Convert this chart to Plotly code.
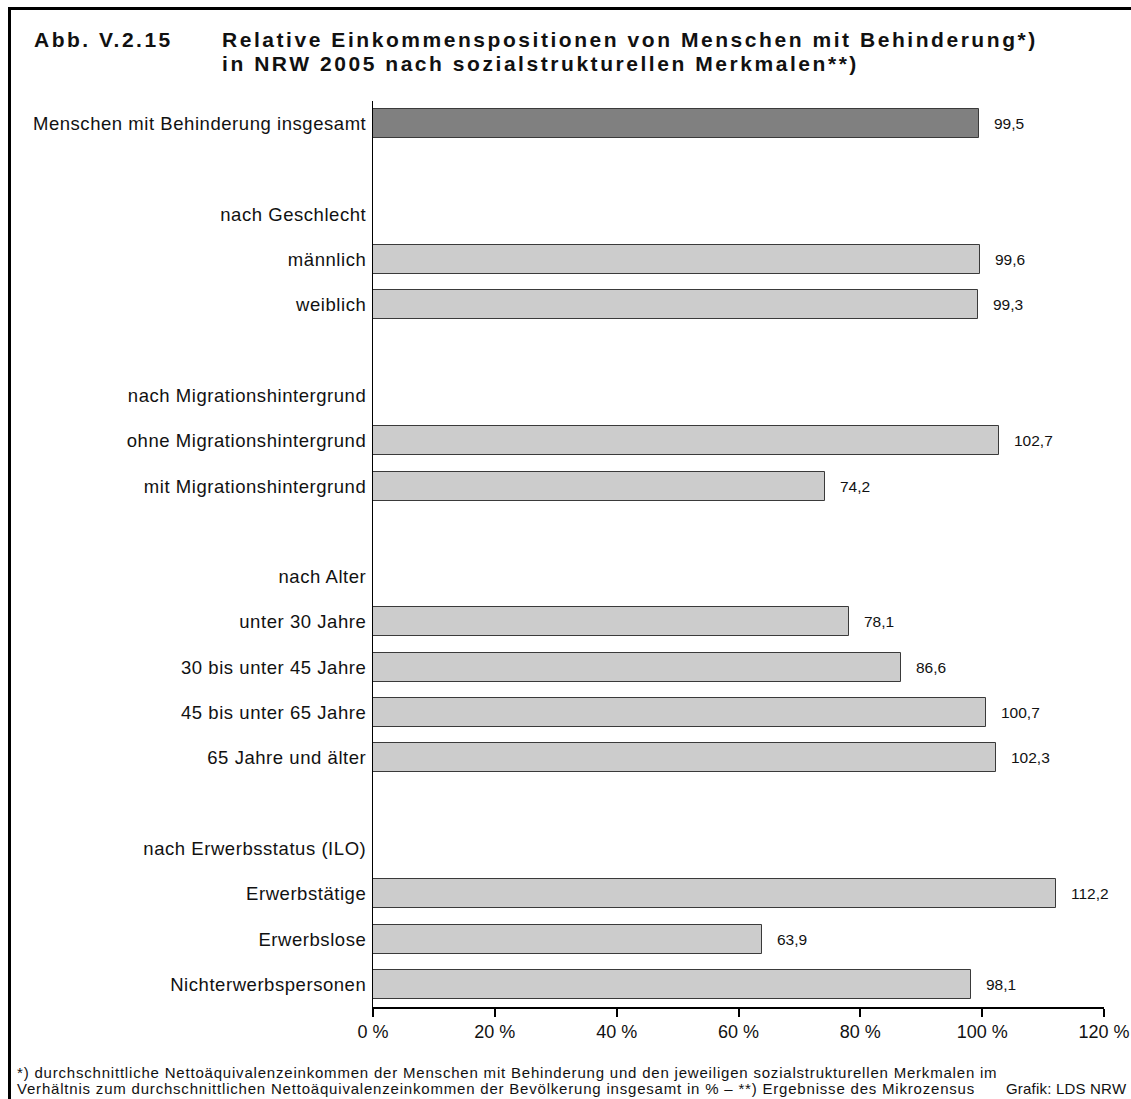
import plotly.graph_objects as go

# ---- data -------------------------------------------------------------
total_label = "Menschen mit Behinderung insgesamt"
total_value = 99.5

group_headers = [
    "nach Geschlecht",
    "nach Migrationshintergrund",
    "nach Alter",
    "nach Erwerbsstatus (ILO)",
]
group_categories = [
    ["männlich", "weiblich"],
    ["ohne Migrationshintergrund", "mit Migrationshintergrund"],
    ["unter 30 Jahre", "30 bis unter 45 Jahre", "45 bis unter 65 Jahre", "65 Jahre und älter"],
    ["Erwerbstätige", "Erwerbslose", "Nichterwerbspersonen"],
]
group_values = [
    [99.6, 99.3],
    [102.7, 74.2],
    [78.1, 86.6, 100.7, 102.3],
    [112.2, 63.9, 98.1],
]
x_tickvals = [0, 20, 40, 60, 80, 100, 120]
x_ticktext = ["0 %", "20 %", "40 %", "60 %", "80 %", "100 %", "120 %"]

title_number = "Abb. V.2.15"
title_lines = [
    "Relative Einkommenspositionen von Menschen mit Behinderung*)",
    "in NRW 2005 nach sozialstrukturellen Merkmalen**)",
]
footnote_lines = [
    "*) durchschnittliche Nettoäquivalenzeinkommen der Menschen mit Behinderung und den jeweiligen sozialstrukturellen Merkmalen im",
    "Verhältnis zum durchschnittlichen Nettoäquivalenzeinkommen der Bevölkerung insgesamt in % – **) Ergebnisse des Mikrozensus",
]
source_text = "Grafik: LDS NRW"

# ---- row layout: total, then per group a blank row, a header row, the bars
row_labels = [total_label]
bar_rows, bar_vals, bar_colors = [0], [total_value], ["#808080"]
row = 0
for header, cats, vals in zip(group_headers, group_categories, group_values):
    row += 1
    row_labels.append("")
    row += 1
    row_labels.append(header)
    for c, v in zip(cats, vals):
        row += 1
        row_labels.append(c)
        bar_rows.append(row)
        bar_vals.append(v)
        bar_colors.append("#cccccc")
n_rows = len(row_labels)

W, H = 1131, 1099
M_L, M_R, M_T, M_B = 373, 27, 101, 92
FONT = "Liberation Sans, Arial, Helvetica, sans-serif"
TXT = "#111111"


def px_x(px):
    return (px - M_L) / (W - M_L - M_R)


def px_y(py):
    return 1 - (py - M_T) / (H - M_T - M_B)


def spaced(text, ls):
    """Wrap text in a span with extra letter spacing (px)."""
    return f'<span style="letter-spacing:{ls}px">{text}</span>' if text else text


fig = go.Figure()
fig.add_trace(go.Bar(
    x=bar_vals,
    y=bar_rows,
    orientation="h",
    width=0.64,
    marker=dict(color=bar_colors, line=dict(color="#3a3a3a", width=1)),
    hoverinfo="x+y",
    showlegend=False,
))

annotations = []
for r, v in zip(bar_rows, bar_vals):
    annotations.append(dict(
        x=v, y=r, xref="x", yref="y",
        text=f"{v:.1f}".replace(".", ","),
        showarrow=False, xanchor="left", yanchor="middle", xshift=13,
        font=dict(family=FONT, size=15.5, color=TXT),
    ))

# title block
annotations.append(dict(
    x=px_x(32), y=px_y(40), xref="paper", yref="paper",
    text="<b>" + spaced(title_number, 2.5) + "</b>", showarrow=False,
    xanchor="left", yanchor="middle",
    font=dict(family=FONT, size=21, color=TXT),
))
for i, line in enumerate(title_lines):
    annotations.append(dict(
        x=px_x(220), y=px_y(40 + 24 * i), xref="paper", yref="paper",
        text="<b>" + spaced(line, 2.55) + "</b>", showarrow=False,
        xanchor="left", yanchor="middle",
        font=dict(family=FONT, size=21, color=TXT),
    ))

# footnotes
for i, line in enumerate(footnote_lines):
    annotations.append(dict(
        x=px_x(15), y=px_y(1072 + 16 * i), xref="paper", yref="paper",
        text=spaced(line, 0.8), showarrow=False, xanchor="left", yanchor="middle",
        font=dict(family=FONT, size=15, color=TXT),
    ))
annotations.append(dict(
    x=px_x(1129), y=px_y(1088), xref="paper", yref="paper",
    text=spaced(source_text, 0.2), showarrow=False, xanchor="right", yanchor="middle",
    font=dict(family=FONT, size=15, color=TXT),
))

# frame (top and left edges)
shapes = [
    dict(type="line", xref="paper", yref="paper",
         x0=px_x(8.5), x1=px_x(W + 5), y0=px_y(8.5), y1=px_y(8.5),
         line=dict(color="#000000", width=3)),
    dict(type="line", xref="paper", yref="paper",
         x0=px_x(9.5), x1=px_x(9.5), y0=px_y(7), y1=px_y(H + 5),
         line=dict(color="#000000", width=3)),
]

fig.update_layout(
    width=W, height=H, autosize=False,
    margin=dict(l=M_L, r=M_R, t=M_T, b=M_B, pad=0),
    paper_bgcolor="white", plot_bgcolor="white",
    font=dict(family=FONT, color=TXT),
    annotations=annotations,
    shapes=shapes,
    bargap=0,
    xaxis=dict(
        range=[0, 120], tickvals=x_tickvals, ticktext=x_ticktext,
        automargin=False,
        showgrid=False, zeroline=False,
        showline=True, linecolor="#000000", linewidth=1.5,
        ticks="outside", ticklen=8, tickwidth=2, tickcolor="#000000",
        tickfont=dict(family=FONT, size=18, color=TXT),
        fixedrange=True,
    ),
    yaxis=dict(
        range=[n_rows - 0.5, -0.5],
        tickvals=list(range(n_rows)), ticktext=[spaced(t, 0.55) for t in row_labels],
        automargin=False,
        showgrid=False, zeroline=False,
        showline=True, linecolor="#000000", linewidth=1,
        ticks="", ticklabelstandoff=2,
        tickfont=dict(family=FONT, size=18.5, color=TXT),
        fixedrange=True,
    ),
)

fig.write_html("out.html", config={"displayModeBar": False})
